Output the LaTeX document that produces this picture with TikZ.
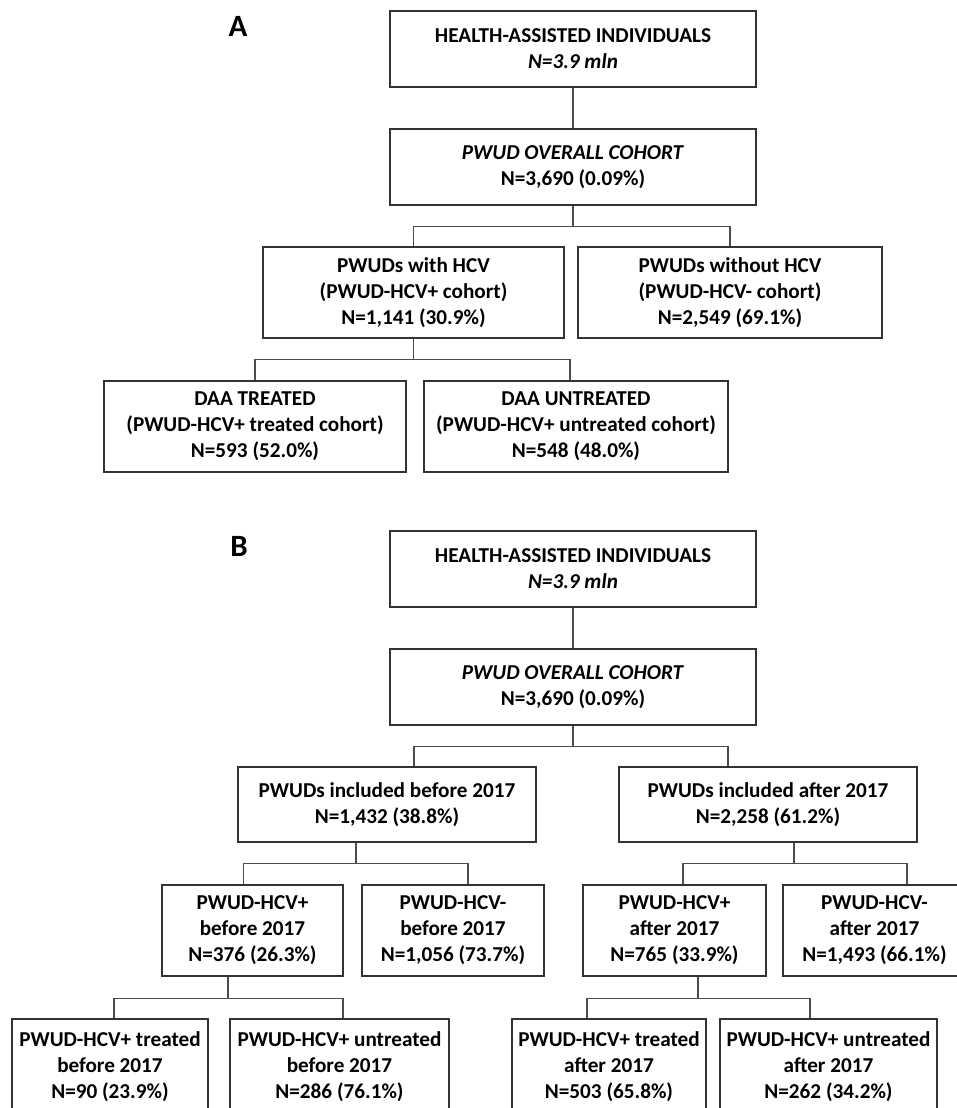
\documentclass[tikz,border=0pt]{standalone}
\usepackage{fontspec}
\setmainfont{Carlito}
\usetikzlibrary{calc}

\begin{document}
\begin{tikzpicture}[
    x=1pt,
    y=-1pt,
    line width=1.4pt,
    cohort node/.style={rectangle,draw=black!80,fill=white,inner sep=0pt,align=center,
      font=\fontsize{21.2}{26}\selectfont\bfseries},
    panel node/.style={font=\fontsize{31}{31}\selectfont\bfseries},
    branch/.style={draw=black!70}]

  \useasboundingbox (0,0) rectangle (956,1108);

  % panel A
  \node[panel node] (A) at (238,26) {A};
  \node[cohort node,minimum width=366,minimum height=76] (a1) at (573,49) {HEALTH-ASSISTED INDIVIDUALS\\ \textit{N=3.9 mln}};
  \node[cohort node,minimum width=366,minimum height=76] (a2) at (573,167) {\textit{PWUD OVERALL COHORT}\\ N=3,690 (0.09\%)};
  \node[cohort node,minimum width=301,minimum height=91] (a3) at (413.5,292.5) {PWUDs with HCV\\ (PWUD-HCV+ cohort)\\ N=1,141 (30.9\%)};
  \node[cohort node,minimum width=304,minimum height=91] (a4) at (730,292.5) {PWUDs without HCV\\ (PWUD-HCV- cohort)\\ N=2,549 (69.1\%)};
  \node[cohort node,minimum width=302,minimum height=91] (a5) at (255,426.5) {DAA TREATED\\ (PWUD-HCV+ treated cohort)\\ N=593 (52.0\%)};
  \node[cohort node,minimum width=304,minimum height=91] (a6) at (576,426.5) {DAA UNTREATED\\ (PWUD-HCV+ untreated cohort)\\ N=548 (48.0\%)};

  % panel B
  \node[panel node] (B) at (239,546) {B};
  \node[cohort node,minimum width=366,minimum height=76] (b1) at (573,569) {HEALTH-ASSISTED INDIVIDUALS\\ \textit{N=3.9 mln}};
  \node[cohort node,minimum width=366,minimum height=76] (b2) at (573,687) {\textit{PWUD OVERALL COHORT}\\ N=3,690 (0.09\%)};
  \node[cohort node,minimum width=298,minimum height=75] (b3) at (387,804.5) {PWUDs included before 2017\\ N=1,432 (38.8\%)};
  \node[cohort node,minimum width=298,minimum height=75] (b4) at (768,804.5) {PWUDs included after 2017\\ N=2,258 (61.2\%)};
  \node[cohort node,minimum width=181,minimum height=91] (b5) at (252.5,930.5) {PWUD-HCV+\\ before 2017\\ N=376 (26.3\%)};
  \node[cohort node,minimum width=182,minimum height=91] (b6) at (453,930.5) {PWUD-HCV-\\ before 2017\\ N=1,056 (73.7\%)};
  \node[cohort node,minimum width=183,minimum height=91] (b7) at (674.5,930.5) {PWUD-HCV+\\ after 2017\\ N=765 (33.9\%)};
  \node[cohort node,minimum width=183,minimum height=91] (b8) at (874.5,930.5) {PWUD-HCV-\\ after 2017\\ N=1,493 (66.1\%)};
  \node[cohort node,minimum width=196,minimum height=95] (b9) at (110,1066.5) {PWUD-HCV+ treated\\ before 2017\\ N=90 (23.9\%)};
  \node[cohort node,minimum width=219,minimum height=95] (b10) at (339.5,1066.5) {PWUD-HCV+ untreated\\ before 2017\\ N=286 (76.1\%)};
  \node[cohort node,minimum width=194,minimum height=95] (b11) at (609,1066.5) {PWUD-HCV+ treated\\ after 2017\\ N=503 (65.8\%)};
  \node[cohort node,minimum width=217,minimum height=95] (b12) at (828.5,1066.5) {PWUD-HCV+ untreated\\ after 2017\\ N=262 (34.2\%)};

  % connectors A
  \draw[branch] (a1) -- (a2);
  \draw[branch] (a2.south) -- ++(0,21) -| (a3.north);
  \draw[branch] (a2.south) -- ++(0,21) -| (a4.north);
  \draw[branch] (a3.south) -- ++(0,21) -| (a5.north);
  \draw[branch] (a3.south) -- ++(0,21) -| ($(a6.north)+(-6,0)$);

  % connectors B
  \draw[branch] (b1) -- (b2);
  \draw[branch] (b2.south) -- ++(0,21) -| ($(b3.north)+(27,0)$);
  \draw[branch] (b2.south) -- ++(0,21) -| ($(b4.north)+(-40,0)$);
  \draw[branch] ($(b3.south)+(-31,0)$) -- ++(0,21) -| ($(b5.north)+(-9,0)$);
  \draw[branch] ($(b3.south)+(-31,0)$) -- ++(0,21) -| ($(b6.north)+(15,0)$);
  \draw[branch] ($(b4.south)+(26,0)$) -- ++(0,21) -| ($(b7.north)+(8.5,0)$);
  \draw[branch] ($(b4.south)+(26,0)$) -- ++(0,21) -| ($(b8.north)+(32.5,0)$);
  \draw[branch] ($(b5.south)+(-24.5,0)$) -- ++(0,22) -| ($(b9.north)+(4,0)$);
  \draw[branch] ($(b5.south)+(-24.5,0)$) -- ++(0,22) -| ($(b10.north)+(3.5,0)$);
  \draw[branch] ($(b7.south)+(23.5,0)$) -- ++(0,22) -| ($(b11.north)+(-22,0)$);
  \draw[branch] ($(b7.south)+(23.5,0)$) -- ++(0,22) -| ($(b12.north)+(-18.5,0)$);
\end{tikzpicture}
\end{document}
